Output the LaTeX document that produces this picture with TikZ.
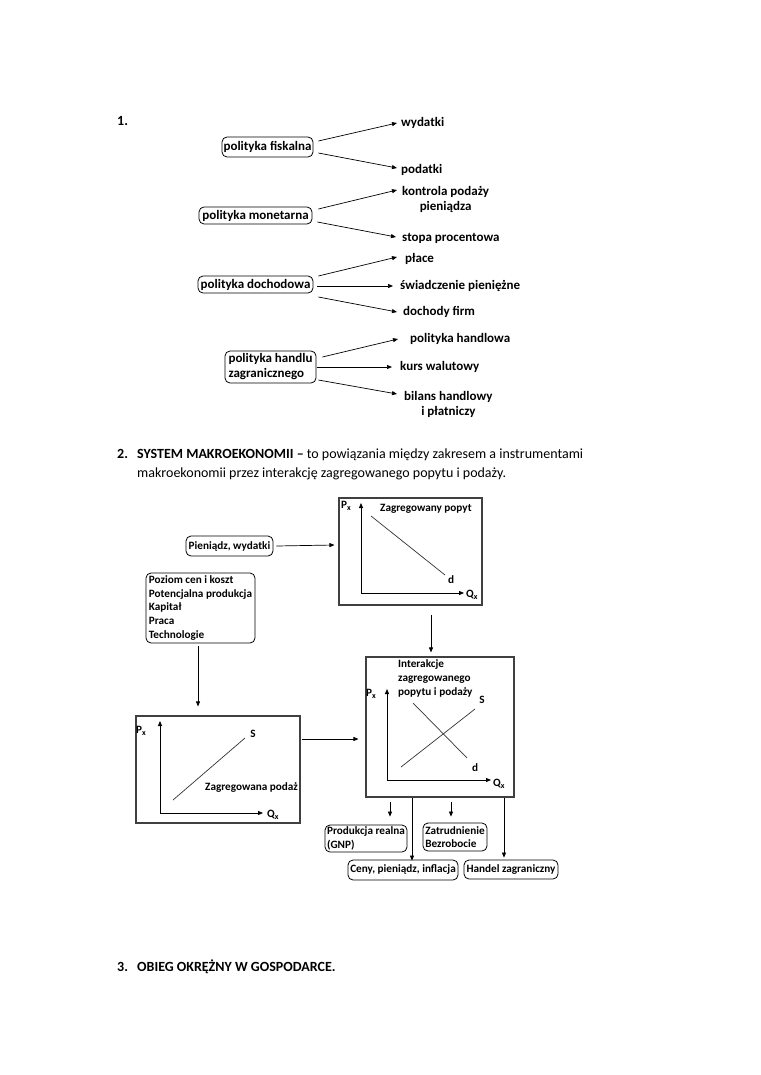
\documentclass[tikz,border=0pt]{standalone}
\usepackage{fontspec}
\setmainfont{Carlito}
\usetikzlibrary{arrows.meta}
\begin{document}
\begin{tikzpicture}[x=1pt,y=-1pt,
  lbl/.style={font=\bfseries\fontsize{13}{15}\selectfont, inner sep=0pt},
  slbl/.style={font=\bfseries\fontsize{11.2}{13.7}\selectfont, inner sep=0pt},
  pbox/.style={draw, rounded corners=5pt, line width=0.8pt, inner sep=0pt, font=\bfseries\fontsize{13}{15}\selectfont},
  sbox/.style={draw, rounded corners=5pt, line width=0.8pt, inner sep=0pt, font=\bfseries\fontsize{11.2}{13.7}\selectfont},
  chart/.style={draw=black!75, line width=1.1pt, inner sep=0pt},
  arr/.style={-{Triangle[length=5pt,width=4pt]}, line width=0.7pt},
  head/.style={font=\fontsize{14}{19}\selectfont, inner sep=0pt, anchor=base west},
  bhead/.style={head, font=\bfseries\fontsize{14}{19}\selectfont}
]
\useasboundingbox (0,0) rectangle (760,1075);
\fill[white] (0,0) rectangle (760,1075);

% ---------- Section 1 ----------
\node[bhead] (h1) at (117,125.5) {1.};

\node[pbox, minimum width=91pt, minimum height=20pt] (fisk) at (267.5,147) {polityka fiskalna};
\node[lbl, anchor=west] (wyd) at (401,123) {wydatki};
\node[lbl, anchor=west] (pod) at (401,170) {podatki};
\draw[arr] ([shift={(5,-6)}]fisk.east) -- ([shift={(-4,0)}]wyd.west);
\draw[arr] ([shift={(5,6)}]fisk.east) -- ([shift={(-4,-2)}]pod.west);

\node[pbox, minimum width=113pt, minimum height=17pt] (mon) at (255.5,215.5) {polityka monetarna};
\node[lbl, align=center, anchor=west] (kon) at (402,199) {kontrola podaży\\pieniądza};
\node[lbl, anchor=west] (sto) at (402,238) {stopa procentowa};
\draw[arr] ([shift={(6,-6.5)}]mon.east) -- ([shift={(-5,-9)}]kon.west);
\draw[arr] ([shift={(5,6.5)}]mon.east) -- ([shift={(-6,-1)}]sto.west);

\node[pbox, minimum width=115pt, minimum height=17pt] (doch) at (255.5,284.5) {polityka dochodowa};
\node[lbl, anchor=west] (pla) at (405,259) {płace};
\node[lbl, anchor=west] (swi) at (400,286) {świadczenie pieniężne};
\node[lbl, anchor=west] (dfi) at (403,312) {dochody firm};
\draw[arr] ([shift={(5,-8.5)}]doch.east) -- ([shift={(-8,-2)}]pla.west);
\draw[arr] ([shift={(4,1.5)}]doch.east) -- ([shift={(-7,0)}]swi.west);
\draw[arr] ([shift={(5,12.5)}]doch.east) -- ([shift={(-6,0)}]dfi.west);

\node[pbox, minimum width=91pt, minimum height=32pt, align=left] (han) at (270.5,367) {polityka handlu\\zagranicznego};
\node[lbl, anchor=west] (phl) at (410,339) {polityka handlowa};
\node[lbl, anchor=west] (kur) at (400,367) {kurs walutowy};
\node[lbl, align=center, anchor=west] (bil) at (404,404) {bilans handlowy\\i płatniczy};
\draw[arr] ([shift={(6,-10)}]han.east) -- ([shift={(-12,0)}]phl.west);
\draw[arr] ([shift={(1,0)}]han.east) -- ([shift={(-8,0)}]kur.west);
\draw[arr] ([shift={(2,13)}]han.east) -- ([shift={(-7,-10)}]bil.west);

% ---------- Section 2 ----------
\node[bhead] (h2) at (117,458) {2.};
\node[head] (h2a) at (137,458) {\textbf{SYSTEM MAKROEKONOMII –} to powiązania między zakresem a instrumentami};
\node[head] (h2b) at (137,477) {makroekonomii przez interakcję zagregowanego popytu i podaży.};

% aggregate demand chart
\node[chart, minimum width=143pt, minimum height=107pt] (ad) at (410.5,551.5) {};
\node[slbl, anchor=west] (adt) at (380,509) {Zagregowany popyt};
\node[slbl, anchor=west] (adp) at (341,506) {P\raisebox{-2.5pt}{\fontsize{8}{8}\selectfont x}};
\node[slbl, anchor=west] (adq) at (466,595) {Q\raisebox{-2.5pt}{\fontsize{8}{8}\selectfont x}};
\node[slbl] (add) at (451,580) {d};
\draw[arr, line width=0.8pt] (361,593) -- (361,503);
\draw[arr, line width=0.8pt] (361,593) -- (464,593);
\draw[line width=0.7pt, black!80] (371,516) -- (445,575);

\node[sbox, minimum width=87pt, minimum height=20pt] (pw) at (229.5,546) {Pieniądz, wydatki};
\draw[arr] ([shift={(3,0)}]pw.east) -- ([shift={(-4,-6.5)}]ad.west);

\node[sbox, minimum width=109pt, minimum height=70pt, align=left] (poz) at (200.5,608)
  {Poziom cen i koszt\\Potencjalna produkcja\\Kapitał\\Praca\\Technologie};

% aggregate supply chart
\node[chart, minimum width=164pt, minimum height=107pt] (as) at (218,769.5) {};
\node[slbl, anchor=west] (asp) at (136,731) {P\raisebox{-2.5pt}{\fontsize{8}{8}\selectfont x}};
\node[slbl, anchor=west] (asq) at (267,815) {Q\raisebox{-2.5pt}{\fontsize{8}{8}\selectfont x}};
\node[slbl] (ass) at (253,734) {S};
\node[slbl, anchor=west] (ast) at (205,788) {Zagregowana podaż};
\draw[arr, line width=0.8pt] (160,813) -- (160,721);
\draw[arr, line width=0.8pt] (160,813) -- (263,813);
\draw[line width=0.7pt, black!80] (173,800) -- (245,738);

\draw[arr] ([shift={(-2.5,3)}]poz.south) -- ([shift={(-20,-9)}]as.north);

% interaction chart
\node[chart, minimum width=148pt, minimum height=140pt] (iad) at (440,727) {};
\node[slbl, anchor=north west, align=left, font=\bfseries\fontsize{11.2}{14}\selectfont] (iat) at (398,659) {Interakcje\\zagregowanego\\popytu i podaży};
\node[slbl, anchor=west] (iap) at (366,694) {P\raisebox{-2.5pt}{\fontsize{8}{8}\selectfont x}};
\node[slbl, anchor=west] (iaq) at (493,784) {Q\raisebox{-2.5pt}{\fontsize{8}{8}\selectfont x}};
\node[slbl] (ias) at (482,700) {S};
\node[slbl] (iad2) at (475,768) {d};
\draw[arr, line width=0.8pt] (387,780) -- (387,689);
\draw[arr, line width=0.8pt] (387,780) -- (491,780);
\draw[line width=0.7pt, black!80] (401,767) -- (475,709);
\draw[line width=0.7pt, black!80] (413,703) -- (467,758);

\draw[arr] ([shift={(20.5,9)}]ad.south) -- ([shift={(-9,-4)}]iad.north);
\draw[arr] ([shift={(1,-30.5)}]as.east) -- ([shift={(-7,12)}]iad.west);

% results
\node[sbox, minimum width=82pt, minimum height=27pt, align=left] (prod) at (366,838.5) {Produkcja realna\\(GNP)};
\node[sbox, minimum width=110pt, minimum height=20pt] (ceny) at (403,870) {Ceny, pieniądz, inflacja};
\node[sbox, minimum width=64pt, minimum height=28pt, align=left] (zat) at (455,837) {Zatrudnienie\\Bezrobocie};
\node[sbox, minimum width=94pt, minimum height=19pt] (hz) at (511,869.5) {Handel zagraniczny};

\draw[arr] ([shift={(-50,4)}]iad.south) -- ([shift={(24,-8)}]prod.north);
\draw[arr] ([shift={(-28,0)}]iad.south) -- ([shift={(9,1)}]ceny.north);
\draw[arr] ([shift={(11,4)}]iad.south) -- ([shift={(-4,-6)}]zat.north);
\draw[arr] ([shift={(64,0)}]iad.south) -- ([shift={(-7,-2)}]hz.north);

% ---------- Section 3 ----------
\node[bhead] (h3) at (117,971.5) {3.};
\node[bhead] (h3t) at (137,971.5) {OBIEG OKRĘŻNY W GOSPODARCE.};
\end{tikzpicture}
\end{document}
